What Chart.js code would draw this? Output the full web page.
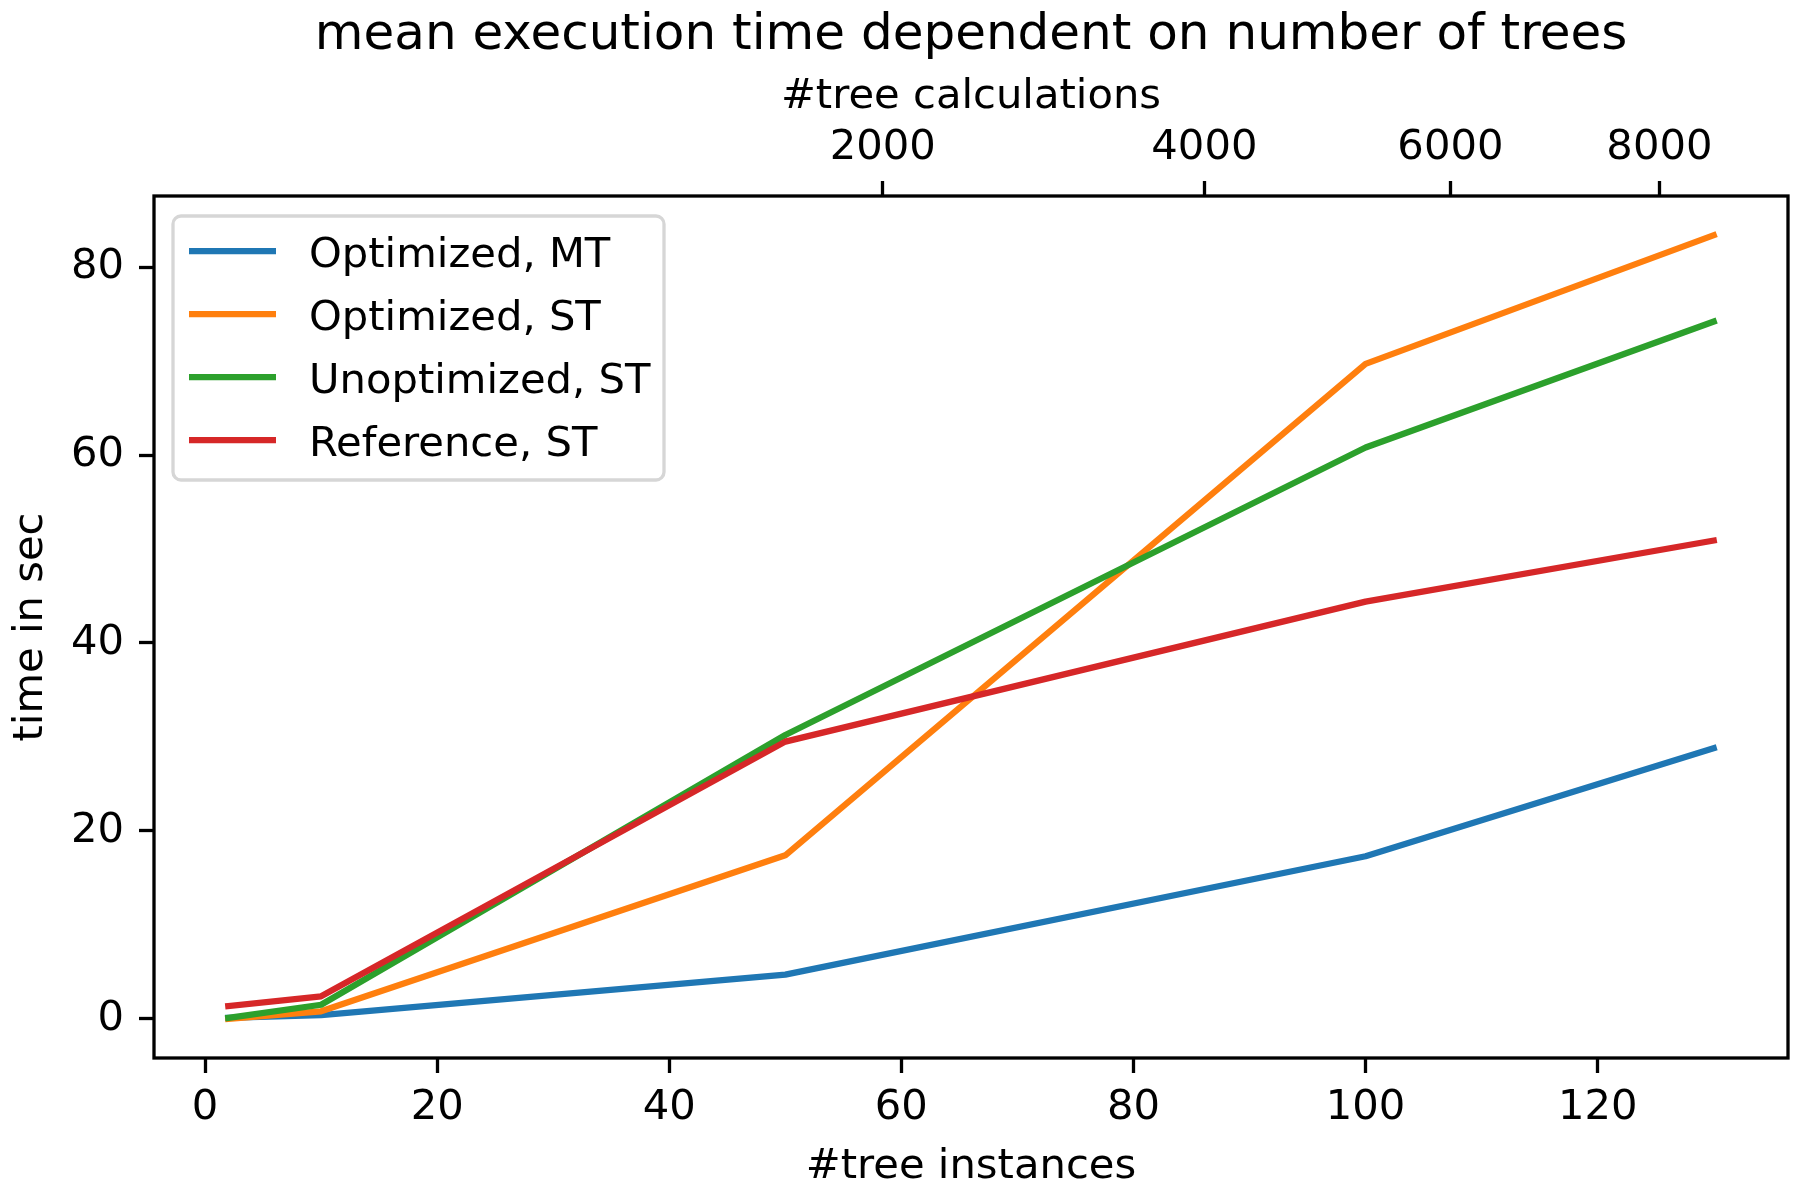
<!DOCTYPE html>
<html>
<head>
<meta charset="utf-8">
<script src="https://cdn.jsdelivr.net/npm/chart.js@4.4.0/dist/chart.umd.min.js"></script>
<style>
  html, body { margin: 0; padding: 0; background: #fff; }
  #wrap { width: 1800px; height: 1200px; }
</style>
</head>
<body>
<div id="wrap"><canvas id="chart" width="1800" height="1200"></canvas></div>
<script>
// ---- DATA ----
const treeInstances = [2, 10, 50, 100, 130];
const optimizedMT   = [0.1, 0.4, 4.7, 17.3, 28.8];
const optimizedST   = [0.0, 0.8, 17.4, 69.7, 83.4];
const unoptimizedST = [0.1, 1.5, 30.2, 60.8, 74.2];
const referenceST   = [1.35, 2.4, 29.5, 44.4, 50.9];

const seriesLabels = ["Optimized, MT", "Optimized, ST", "Unoptimized, ST", "Reference, ST"];
const seriesColors = ["#1f77b4", "#ff7f0e", "#2ca02c", "#d62728"];

const xTickValues = [0, 20, 40, 60, 80, 100, 120];
const yTickValues = [0, 20, 40, 60, 80];
// top axis: #tree calculations, placed at their #tree instances position
const topTickLabels    = ["2000", "4000", "6000", "8000"];
const topTickPositions = [58.39, 86.11, 107.31, 125.32];

// ---- STYLE ----
const FONT = "DejaVu Sans";
const fontSize = 41.7;
const axisLw = 3.3;

const tickGrid = {
  display: true,
  drawOnChartArea: false,
  drawTicks: true,
  tickLength: 15,
  tickWidth: axisLw,
  tickColor: "#000"
};

const series = [optimizedMT, optimizedST, unoptimizedST, referenceST];

const datasets = series.map((vals, i) => ({
  label: seriesLabels[i],
  data: treeInstances.map((x, j) => ({ x: x, y: vals[j] })),
  borderColor: seriesColors[i],
  backgroundColor: seriesColors[i],
  borderWidth: 6.25,
  pointRadius: 0,
  tension: 0,
  borderJoinStyle: "round",
  borderCapStyle: "square",
  order: series.length - 1 - i,
  xAxisID: "x",
  yAxisID: "y"
}));

// ---- LEGEND INSIDE PLOT + FRAME ----
const legendInside = {
  id: "legendInside",
  afterDatasetsDraw(chart) {
    const ctx = chart.ctx, a = chart.chartArea;
    ctx.save();
    // frame
    ctx.strokeStyle = "#000";
    ctx.lineWidth = axisLw;
    ctx.strokeRect(a.left, a.top, a.right - a.left, a.bottom - a.top);

    const x0 = a.left + 19, y0 = a.top + 20, w = 491, h = 264;
    ctx.fillStyle = "rgba(255,255,255,0.8)";
    ctx.strokeStyle = "#d6d6d6";
    ctx.lineWidth = axisLw;
    ctx.beginPath();
    ctx.roundRect(x0, y0, w, h, 8);
    ctx.fill();
    ctx.stroke();

    ctx.font = fontSize + "px '" + FONT + "'";
    ctx.textBaseline = "middle";
    chart.data.datasets.forEach((ds, i) => {
      const y = y0 + 35 + i * 63;
      ctx.strokeStyle = ds.borderColor;
      ctx.lineWidth = 6.25;
      ctx.beginPath();
      ctx.moveTo(x0 + 16, y);
      ctx.lineTo(x0 + 103, y);
      ctx.stroke();
      ctx.fillStyle = "#000";
      ctx.fillText(ds.label, x0 + 136, y + 5.5);
    });
    ctx.restore();
  }
};

new Chart(document.getElementById("chart"), {
  type: "line",
  data: { datasets: datasets },
  plugins: [legendInside],
  options: {
    responsive: false,
    animation: false,
    devicePixelRatio: 1,
    layout: { padding: { left: 0, right: 12, top: 0, bottom: 0 } },
    plugins: {
      legend: { display: false },
      tooltip: { enabled: false },
      title: {
        display: true,
        fullSize: false,
        text: "mean execution time dependent on number of trees",
        color: "#000",
        font: { family: FONT, size: 50, weight: "normal" },
        padding: { top: 6, bottom: 0 }
      }
    },
    scales: {
      x: {
        type: "linear",
        position: "bottom",
        min: -4.4,
        max: 136.4,
        afterBuildTicks: s => { s.ticks = xTickValues.map(v => ({ value: v })); },
        afterFit: s => { s.height = 142; },
        ticks: {
          color: "#000",
          font: { family: FONT, size: fontSize },
          padding: 10,
          maxRotation: 0,
          autoSkip: false
        },
        grid: tickGrid,
        border: { display: false },
        title: {
          display: true,
          text: "#tree instances",
          color: "#000",
          font: { family: FONT, size: fontSize },
          padding: { top: 0, bottom: 8 }
        }
      },
      xTop: {
        type: "linear",
        position: "top",
        min: -4.4,
        max: 136.4,
        afterBuildTicks: s => { s.ticks = topTickPositions.map(v => ({ value: v })); },
        afterFit: s => { s.height = 130; },
        ticks: {
          color: "#000",
          font: { family: FONT, size: fontSize },
          padding: 8,
          maxRotation: 0,
          autoSkip: false,
          callback: (v, i) => topTickLabels[i]
        },
        grid: tickGrid,
        border: { display: false },
        title: {
          display: true,
          text: "#tree calculations",
          color: "#000",
          font: { family: FONT, size: fontSize },
          padding: { top: 6.5, bottom: 0 }
        }
      },
      y: {
        type: "linear",
        position: "left",
        min: -4.17,
        max: 87.57,
        afterBuildTicks: s => { s.ticks = yTickValues.map(v => ({ value: v })); },
        afterFit: s => { s.width = 154; },
        ticks: {
          color: "#000",
          font: { family: FONT, size: fontSize },
          padding: 15
        },
        grid: tickGrid,
        border: { display: false },
        title: {
          display: true,
          text: "time in sec",
          color: "#000",
          font: { family: FONT, size: fontSize },
          padding: { top: 6, bottom: 0 }
        }
      }
    }
  }
});
</script>
</body>
</html>
